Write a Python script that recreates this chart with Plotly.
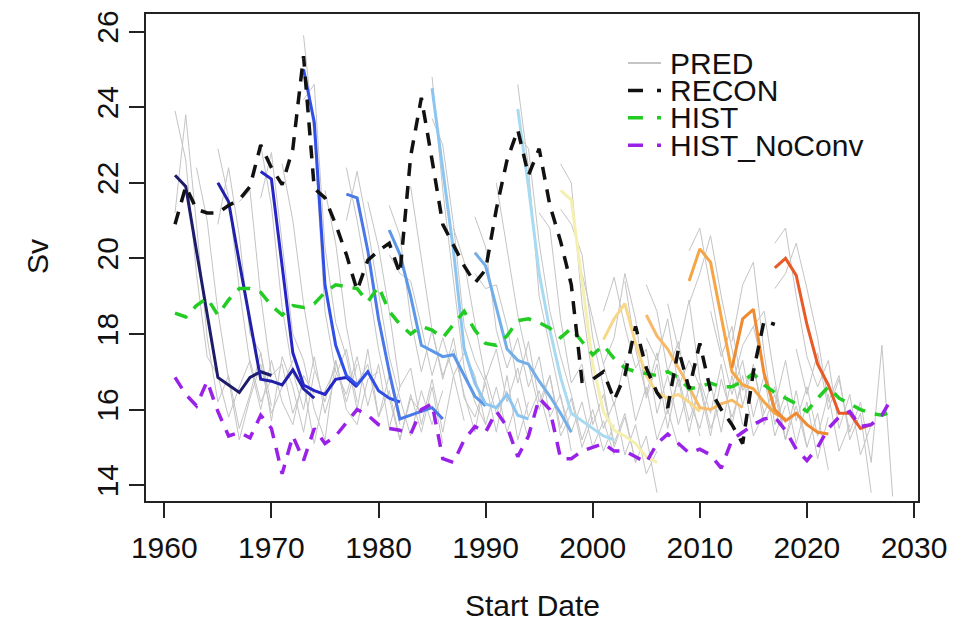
import plotly.graph_objects as go

# ---------------- data ----------------
forecast_starts = [1961, 1965, 1969, 1973, 1977, 1981, 1985, 1989, 1993, 1997, 2001, 2005, 2009, 2013, 2017]
forecast_colors = ["#1c1c6a", "#2020a8", "#2626c8", "#3050e8", "#4a78e8", "#5c98e8", "#8cc6f0", "#74aee8",
                   "#a8daf2", "#f5f0b0", "#f8d888", "#f7b868", "#f5a545", "#f08a30", "#e85a28"]
forecast_means = [
    [22.2, 21.9, 20.2, 18.5, 16.85, 16.65, 16.45, 16.85, 17.0, 16.9],
    [22.0, 21.5, 19.9, 18.3, 16.8, 16.75, 16.65, 17.05, 16.55, 16.3],
    [22.3, 22.1, 19.8, 17.5, 16.65, 16.5, 16.4, 16.8, 16.85, 16.6],
    [25.0, 23.6, 19.3, 17.7, 16.9, 16.65, 17.0, 16.5, 16.3, 16.2],
    [21.7, 21.6, 20.2, 18.4, 17.0, 15.75, 15.85, 15.95, 16.05, 15.75],
    [20.75, 20.1, 19.0, 17.7, 17.55, 17.4, 17.45, 16.9, 16.35, 16.1],
    [24.5, 22.3, 20.2, 17.6, 16.7, 16.15, 16.05, 16.4, 15.85, 15.75],
    [20.15, 19.8, 18.7, 17.6, 17.3, 17.2, 16.75, 16.35, 15.9, 15.4],
    [23.95, 21.9, 19.6, 18.1, 16.85, 15.9, 15.7, 15.5, 15.3, 15.2],
    [21.8, 21.55, 19.4, 17.2, 15.95, 15.45, 15.3, 15.1, 14.75, 14.6],
    [17.85, 18.4, 18.8, 17.75, 16.9, 16.45, 16.3, 16.4, 16.2, 15.95],
    [18.5, 17.95, 17.6, 17.1, 16.6, 16.05, 16.0, 16.15, 16.25, 16.05],
    [19.4, 20.25, 19.9, 18.4, 17.0, 16.65, 16.55, 16.2, 15.9, 15.75],
    [17.1, 18.4, 18.65, 16.95, 16.0, 15.7, 15.9, 15.6, 15.4, 15.35],
    [19.75, 20.0, 19.55, 18.25, 17.2, 16.65, 15.9, 15.9, 15.5, 15.6],
]

pred_starts = [1961, 1961, 1963, 1965, 1965, 1967, 1969, 1969, 1971, 1973, 1973, 1975, 1977, 1977, 1979,
               1981, 1981, 1983, 1985, 1985, 1987, 1989, 1989, 1991, 1993, 1993, 1995, 1997, 1997, 1999,
               2001, 2001, 2003, 2005, 2005, 2007, 2009, 2009, 2011, 2013, 2013, 2015, 2017, 2017, 2019]
pred_members = [
    [23.9, 22.6, 19.6, 17.4, 16.9, 15.8, 16.6, 17.3, 16.2, 16.8],
    [21.2, 23.8, 20.9, 17.9, 16.2, 16.9, 15.5, 16.4, 17.5, 16.1],
    [22.4, 21.0, 18.6, 16.8, 15.2, 16.3, 17.2, 15.9, 16.6, 17.3],
    [22.9, 21.6, 19.2, 17.2, 16.0, 17.3, 16.2, 15.6, 16.9, 16.4],
    [20.9, 22.4, 20.6, 18.0, 17.5, 15.7, 17.4, 16.6, 15.4, 17.0],
    [21.5, 21.8, 19.0, 16.9, 17.2, 15.9, 16.7, 15.1, 16.5, 17.1],
    [23.0, 21.4, 18.7, 17.0, 16.0, 17.4, 15.9, 16.9, 17.6, 16.2],
    [21.6, 22.8, 20.4, 18.0, 17.3, 16.0, 15.2, 17.3, 16.2, 17.2],
    [22.5, 21.0, 18.8, 17.1, 16.2, 17.3, 16.0, 15.6, 16.8, 17.0],
    [25.9, 23.2, 18.6, 17.0, 16.4, 17.4, 16.1, 17.2, 15.5, 16.6],
    [24.2, 24.6, 20.3, 18.3, 17.4, 16.0, 17.6, 15.8, 16.9, 15.6],
    [21.8, 20.4, 18.2, 16.7, 17.2, 15.8, 16.5, 15.2, 16.3, 15.9],
    [22.4, 21.0, 19.4, 17.6, 16.3, 15.2, 16.4, 15.4, 16.6, 15.1],
    [21.0, 22.3, 20.8, 19.1, 17.4, 16.3, 15.3, 16.5, 15.6, 16.5],
    [21.5, 20.3, 18.6, 16.6, 17.1, 15.6, 16.8, 15.4, 16.9, 15.7],
    [21.4, 20.6, 18.4, 17.0, 18.1, 16.8, 17.9, 16.3, 15.8, 16.7],
    [20.1, 19.6, 19.4, 18.2, 16.9, 17.9, 16.9, 17.5, 16.9, 15.6],
    [21.9, 20.0, 18.1, 16.9, 17.6, 16.4, 15.4, 16.9, 15.9, 16.5],
    [24.8, 21.8, 19.4, 17.1, 16.2, 15.6, 16.6, 15.4, 16.3, 15.2],
    [23.7, 23.0, 20.9, 18.2, 17.3, 16.7, 15.4, 16.9, 15.2, 16.2],
    [20.8, 19.9, 18.3, 16.8, 17.6, 16.2, 17.1, 15.8, 16.5, 15.4],
    [21.1, 20.3, 18.1, 17.1, 17.9, 16.6, 17.4, 15.8, 16.4, 14.9],
    [19.6, 19.2, 19.3, 18.2, 16.7, 17.8, 16.2, 16.9, 15.3, 15.9],
    [22.0, 20.2, 18.5, 17.2, 16.0, 16.9, 15.5, 16.3, 15.0, 15.8],
    [24.6, 22.4, 19.0, 17.6, 16.3, 15.4, 16.2, 15.0, 15.7, 14.8],
    [23.3, 22.9, 20.4, 18.6, 17.4, 16.4, 15.2, 16.0, 14.9, 15.6],
    [21.2, 20.8, 18.4, 16.7, 17.2, 15.6, 16.4, 15.1, 15.9, 14.6],
    [22.5, 22.0, 18.8, 16.8, 15.5, 16.2, 14.8, 15.6, 14.3, 14.9],
    [21.3, 20.9, 20.1, 17.9, 16.6, 15.0, 15.8, 14.6, 15.3, 13.8],
    [19.6, 18.4, 17.2, 16.1, 17.3, 15.7, 16.6, 15.2, 16.0, 15.0],
    [18.6, 19.5, 18.2, 17.1, 17.6, 15.9, 16.9, 15.6, 16.6, 15.3],
    [17.2, 17.9, 19.6, 18.4, 16.3, 17.2, 15.5, 16.9, 15.7, 16.6],
    [19.4, 17.6, 16.4, 17.5, 15.9, 16.8, 15.4, 16.7, 15.5, 16.2],
    [19.3, 18.6, 17.0, 17.8, 16.2, 15.5, 16.7, 15.4, 16.9, 15.6],
    [17.9, 17.3, 18.4, 16.6, 17.3, 16.6, 15.3, 16.8, 15.8, 16.7],
    [18.8, 17.6, 18.9, 16.8, 15.9, 17.2, 15.6, 16.9, 15.3, 15.9],
    [20.2, 20.8, 19.2, 17.6, 16.4, 17.3, 15.8, 16.9, 15.3, 16.1],
    [18.8, 19.6, 20.6, 19.0, 17.6, 16.1, 17.2, 15.6, 16.4, 15.2],
    [18.6, 17.4, 18.2, 16.5, 17.1, 15.9, 16.6, 15.2, 16.1, 15.0],
    [17.8, 19.3, 19.9, 17.5, 15.6, 16.4, 15.1, 16.2, 14.7, 15.8],
    [16.6, 17.7, 18.2, 18.6, 16.8, 15.2, 16.5, 15.0, 15.9, 14.4],
    [18.2, 17.0, 16.1, 17.3, 15.7, 16.6, 15.3, 16.4, 14.9, 15.6],
    [20.4, 20.8, 19.0, 17.4, 16.6, 17.3, 15.5, 16.4, 14.8, 15.6],
    [19.2, 19.6, 20.4, 19.2, 17.9, 16.2, 16.9, 15.2, 15.9, 13.8],
    [17.6, 16.4, 17.5, 16.0, 16.8, 15.4, 16.2, 14.6, 17.7, 13.7],
]

recon_years = list(range(1961, 2018))
recon_vals = [20.9, 21.9, 21.3, 21.2, 21.2, 21.4, 21.55, 21.9, 23.0, 22.4,
              21.95, 22.9, 25.35, 21.85, 21.6, 20.9, 20.1, 19.15, 19.95, 20.2,
              20.4, 19.6, 22.7, 24.25, 22.6, 20.9, 20.35, 19.8, 19.35, 19.7,
              21.3, 22.6, 23.4, 22.2, 22.9, 21.4, 20.45, 19.3, 16.75, 16.8,
              17.0, 16.25, 16.9, 18.2, 17.1, 16.45, 16.05, 17.6, 16.55, 17.75,
              16.5, 16.0, 15.6, 15.1, 17.0, 18.35, 18.25]

hist_years = list(range(1961, 2029))
hist_vals = [18.55, 18.45, 18.75, 18.95, 18.5, 18.9, 19.2, 19.2, 19.1, 18.75,
             18.5, 18.75, 18.7, 18.8, 19.1, 19.3, 19.25, 19.2, 18.85, 19.25,
             18.6, 18.25, 18.0, 18.2, 18.1, 17.9, 18.25, 18.6, 18.1, 17.75,
             17.7, 17.95, 18.35, 18.4, 18.3, 18.15, 17.9, 18.15, 17.8, 17.45,
             17.7, 17.35, 17.1, 17.0, 16.95, 16.9, 17.0, 16.85, 16.55, 16.6,
             16.7, 16.6, 16.6, 16.75, 16.95, 16.65, 16.45, 16.3, 16.15, 15.95,
             16.3, 16.6, 16.3, 16.15, 16.0, 15.9, 15.85, 15.95]

noconv_years = list(range(1961, 2029))
noconv_vals = [16.85, 16.4, 16.1, 16.75, 15.95, 15.3, 15.4, 15.25, 15.85, 15.5,
               14.3, 15.3, 14.65, 15.5, 15.1, 15.3, 15.65, 16.0, 15.85, 15.6,
               15.5, 15.45, 15.35, 16.0, 16.15, 14.7, 14.6, 15.2, 15.55, 15.4,
               15.95, 15.55, 14.75, 15.3, 16.3, 16.0, 14.7, 14.7, 14.9, 15.0,
               15.1, 14.9, 14.9, 14.75, 14.6, 15.1, 15.35, 15.1, 14.85, 14.95,
               14.8, 14.45, 15.2, 15.4, 15.6, 15.75, 15.8, 15.45, 14.95, 14.65,
               15.0, 15.5, 15.8, 15.95, 15.55, 15.6, 15.85, 16.35]

legend_labels = ["PRED", "RECON", "HIST", "HIST_NoConv"]
x_ticks = [1960, 1970, 1980, 1990, 2000, 2010, 2020, 2030]
y_ticks = [14, 16, 18, 20, 22, 24, 26]

# ---------------- figure ----------------
FONT = "Liberation Sans, Arial, Helvetica, sans-serif"
DASH = "13px,10px"

fig = go.Figure()

for s, vals in zip(pred_starts, pred_members):
    fig.add_trace(go.Scatter(x=[s + i for i in range(len(vals))], y=vals, mode="lines",
                             line=dict(color="#c4c4c4", width=1), showlegend=False, hoverinfo="skip"))

for s, vals, c in zip(forecast_starts, forecast_means, forecast_colors):
    fig.add_trace(go.Scatter(x=[s + i for i in range(len(vals))], y=vals, mode="lines",
                             line=dict(color=c, width=3), showlegend=False))

fig.add_trace(go.Scatter(x=hist_years, y=hist_vals, mode="lines", name="HIST",
                         line=dict(color="#22cc22", width=3.5, dash=DASH), showlegend=False))
fig.add_trace(go.Scatter(x=noconv_years, y=noconv_vals, mode="lines", name="HIST_NoConv",
                         line=dict(color="#9a22e8", width=3.5, dash=DASH), showlegend=False))
fig.add_trace(go.Scatter(x=recon_years, y=recon_vals, mode="lines", name="RECON",
                         line=dict(color="#111111", width=3.5, dash=DASH), showlegend=False))

# The page body adds an 8px offset; plot-area target in page pixels:
OFF = 8
L, R, T, B = 146, 918, 10, 501
W, H = R - L, B - T


def px(x):
    return (x - L) / W


def py(y):
    return (B - y) / H


# manual legend (R-style, no box)
leg_colors = ["#c4c4c4", "#111111", "#22cc22", "#9a22e8"]
leg_dash = ["solid", "15px,14px", "15px,14px", "15px,14px"]
leg_width = [2, 3.5, 3.5, 3.5]
for i, (lab, c, d, w) in enumerate(zip(legend_labels, leg_colors, leg_dash, leg_width)):
    yc = 59.5 + 27.6 * i
    fig.add_shape(type="line", xref="paper", yref="paper", x0=px(628), x1=px(661), y0=py(yc), y1=py(yc),
                  line=dict(color=c, width=w, dash=d))
    fig.add_annotation(xref="paper", yref="paper", x=px(668), y=py(yc), text=lab, showarrow=False,
                       xanchor="left", yanchor="middle", font=dict(family=FONT, size=30, color="#111111"))

# axis titles
fig.add_annotation(xref="paper", yref="paper", x=px(532), y=py(606), text="Start Date", showarrow=False,
                   xanchor="center", yanchor="middle", font=dict(family=FONT, size=30, color="#111111"))
fig.add_annotation(xref="paper", yref="paper", x=px(37), y=py(255), text="Sv", showarrow=False, textangle=-90,
                   xanchor="center", yanchor="middle", font=dict(family=FONT, size=30, color="#111111"))

axis_common = dict(showgrid=False, zeroline=False, showline=True, mirror=True, linewidth=2, linecolor="#222222",
                   ticks="outside", ticklen=15, tickwidth=2, tickcolor="#222222",
                   tickfont=dict(family=FONT, size=30, color="#111111"))

fig.update_layout(
    width=960, height=624,
    margin=dict(l=L - OFF, r=960 - (R - OFF), t=T - OFF, b=624 - (B - OFF)),
    paper_bgcolor="white", plot_bgcolor="white",
    showlegend=False,
    xaxis=dict(range=[1958.29, 2030.37], tickmode="array", tickvals=x_ticks,
               ticktext=[str(v) for v in x_ticks], ticklabelstandoff=4, **axis_common),
    yaxis=dict(range=[13.58, 26.465], tickmode="array", tickvals=y_ticks,
               ticktext=[str(v) for v in y_ticks], tickangle=-90, ticklabelstandoff=-1, **axis_common),
)

fig.write_html("out.html")
